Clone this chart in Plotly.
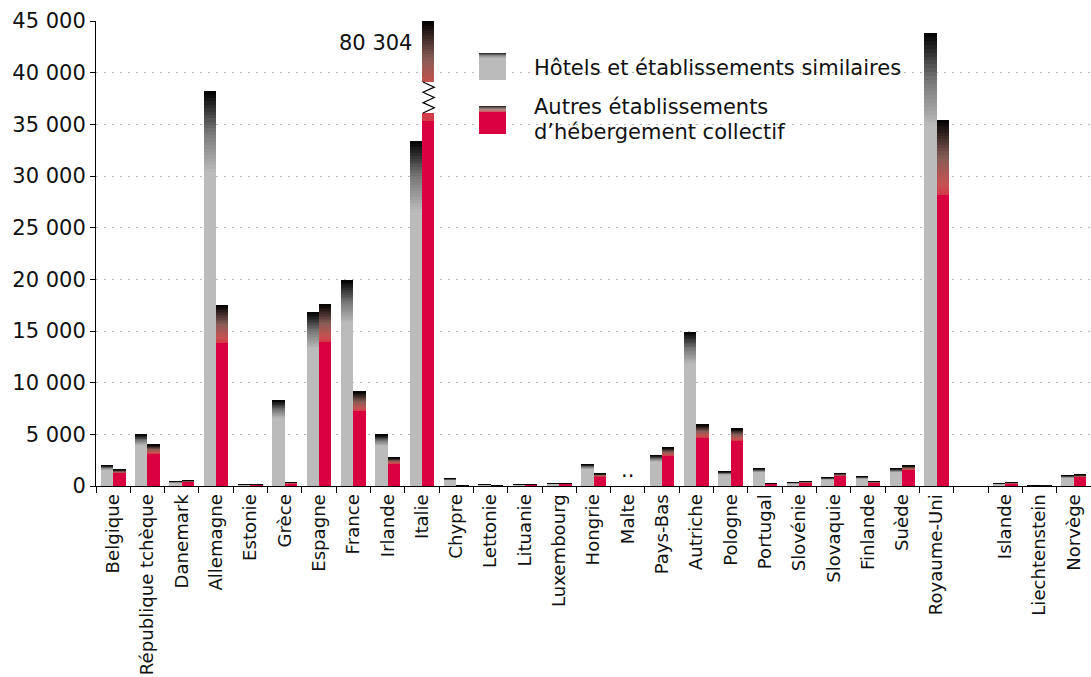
import plotly.graph_objects as go

categories = ["Belgique", "République tchèque", "Danemark", "Allemagne", "Estonie", "Grèce",
              "Espagne", "France", "Irlande", "Italie", "Chypre", "Lettonie", "Lituanie",
              "Luxembourg", "Hongrie", "Malte", "Pays-Bas", "Autriche", "Pologne", "Portugal",
              "Slovénie", "Slovaquie", "Finlande", "Suède", "Royaume-Uni", " ",
              "Islande", "Liechtenstein", "Norvège"]
hotels = [2000, 4980, 440, 38200, 150, 8270, 16800, 19900, 4950, 33400, 730, 140, 150,
          270, 2100, None, 2980, 14900, 1400, 1690, 340, 820, 920, 1690, 43800, None,
          240, 60, 1020]
autres = [1600, 4000, 530, 17500, 170, 350, 17600, 9150, 2750, 80304, 50, 60, 180,
          270, 1200, None, 3730, 5950, 5560, 270, 440, 1240, 440, 1980, 35400, None,
          340, 40, 1110]
series_names = ["Hôtels et établissements similaires",
                "Autres établissements", "d’hébergement collectif"]
missing_label = ".."

YMAX = 45000
BREAK_LO, BREAK_HI = 36100, 39100
F = 0.795          # fraction of bar that is solid
N = 24             # gradient steps
W = 0.36
BIG = 21           # font size for y ticks, legend, annotation
SMALL = 18.1       # font size for category labels

GRAY = (187, 187, 187)
RED = (216, 0, 63)
GRAY_STOPS = [(0, (187, 187, 187)), (0.5, (118, 118, 118)), (1, (0, 0, 0))]
RED_STOPS = [(0, (212, 55, 72)), (0.15, (198, 82, 82)), (0.5, (135, 92, 86)), (1, (0, 0, 0))]


def interp(stops, t):
    for (t0, c0), (t1, c1) in zip(stops[:-1], stops[1:]):
        if t <= t1:
            f = (t - t0) / (t1 - t0)
            return "rgb(%d,%d,%d)" % tuple(round(a + (b - a) * f) for a, b in zip(c0, c1))
    return "rgb(%d,%d,%d)" % stops[-1][1]


def rgb(c):
    return "rgb(%d,%d,%d)" % c


fig = go.Figure()


def add_bar(y, base, offset, color):
    fig.add_trace(go.Bar(x=categories, y=y, base=base, offset=offset, width=W,
                         marker=dict(color=color, line=dict(width=0)),
                         showlegend=False, hoverinfo="skip"))


for vals, offset, solid, stops in [(hotels, -W, GRAY, GRAY_STOPS), (autres, 0, RED, RED_STOPS)]:
    norm = [v if (v is not None and v <= YMAX) else None for v in vals]
    add_bar([v * F if v else None for v in norm], [0 if v else None for v in norm], offset, rgb(solid))
    for k in range(N):
        t = (k + 0.5) / N
        add_bar([v * (1 - F) / N if v else None for v in norm],
                [v * (F + (1 - F) * k / N) if v else None for v in norm],
                offset, interp(stops, t))
    # broken bars (value beyond axis max)
    broken = [i for i, v in enumerate(vals) if v is not None and v > YMAX]
    for i in broken:
        band = 800
        y1 = [None] * len(categories); b1 = [None] * len(categories)
        y1[i] = BREAK_LO - band; b1[i] = 0
        add_bar(y1, b1, offset, rgb(solid))
        y2 = [None] * len(categories); b2 = [None] * len(categories)
        y2[i] = band; b2[i] = BREAK_LO - band
        add_bar(y2, b2, offset, interp(stops, 0.02))
        for k in range(N):
            t = 0.18 + 0.82 * (k + 0.5) / N
            y3 = [None] * len(categories); b3 = [None] * len(categories)
            y3[i] = (YMAX - BREAK_HI) / N
            b3[i] = BREAK_HI + (YMAX - BREAK_HI) * k / N
            add_bar(y3, b3, offset, interp(stops, t))
        # zigzag break mark
        x0 = i + offset + 0.03
        x1 = i + offset + W
        nseg = 6
        pts = []
        for s in range(nseg + 1):
            yy = BREAK_HI - (BREAK_HI - BREAK_LO) * s / nseg
            xx = x0 if s % 2 == 0 else x1
            pts.append((xx, yy))
        path = "M " + " L ".join("%f,%f" % p for p in pts)
        fig.add_shape(type="path", path=path, xref="x", yref="y",
                      line=dict(color="black", width=1.2))
        fig.add_annotation(x=categories[i], y=42900, text=f"{vals[i]:,}".replace(",", " "),
                           showarrow=False, xanchor="right", yanchor="middle", xshift=-8,
                           font=dict(size=BIG))

# missing data marker
for i, (h, a) in enumerate(zip(hotels, autres)):
    if h is None and a is None and categories[i].strip():
        fig.add_annotation(x=categories[i], y=0, text=missing_label, showarrow=False,
                           yanchor="bottom", yshift=2, font=dict(size=BIG))

# custom legend
L, PW, T, PH = 96, 995, 21, 465
px = lambda x: (x - L) / PW
py = lambda y: 1 - (y - T) / PH


def legend_icon(top, bottom, solid, stops, grad_px):
    fig.add_shape(type="rect", xref="paper", yref="paper", x0=px(479), x1=px(506),
                  y0=py(bottom), y1=py(top + grad_px), fillcolor=rgb(solid), line_width=0)
    n = 7
    for k in range(n):
        yb = top + grad_px * (1 - k / n)
        yt = top + grad_px * (1 - (k + 1) / n)
        fig.add_shape(type="rect", xref="paper", yref="paper", x0=px(479), x1=px(506),
                      y0=py(yb), y1=py(yt), fillcolor=interp(stops, (k + 0.5) / n), line_width=0)


legend_icon(53, 80, GRAY, GRAY_STOPS, 6)
legend_icon(106, 134, RED, RED_STOPS, 6)
fig.add_annotation(xref="paper", yref="paper", x=px(532), y=py(68), text=series_names[0],
                   showarrow=False, xanchor="left", yanchor="middle", font=dict(size=BIG))
fig.add_annotation(xref="paper", yref="paper", x=px(532), y=py(107), text=series_names[1],
                   showarrow=False, xanchor="left", yanchor="middle", font=dict(size=BIG))
fig.add_annotation(xref="paper", yref="paper", x=px(532), y=py(132), text=series_names[2],
                   showarrow=False, xanchor="left", yanchor="middle", font=dict(size=BIG))

fig.update_layout(
    width=1091, height=677,
    margin=dict(l=96, r=0, t=21, b=191),
    plot_bgcolor="white", paper_bgcolor="white",
    barmode="overlay", bargap=0,
    separators=", ",
    font=dict(family="DejaVu Sans", size=BIG, color="#111111"),
    showlegend=False,
    xaxis=dict(type="category", categoryorder="array", categoryarray=categories,
               range=[-0.5, len(categories) - 0.5], tickangle=-90, ticks="outside",
               tickson="boundaries", ticklen=6, tickcolor="black", showline=True,
               linecolor="black", linewidth=1, showgrid=False, fixedrange=True,
               automargin=False, tickfont=dict(size=SMALL)),
    yaxis=dict(range=[0, YMAX], dtick=5000, tick0=0, tickformat=",d", showgrid=True,
               gridcolor="#b5b5b5", griddash="2px,6px", gridwidth=1, ticks="outside",
               ticklen=5, tickcolor="black", showline=True, linecolor="black",
               linewidth=1, zeroline=False, automargin=False, tickfont=dict(size=BIG)),
)

fig.write_html("out.html", config={"displayModeBar": False},
               post_script="document.body.style.margin='0';document.body.style.overflow='hidden';")
